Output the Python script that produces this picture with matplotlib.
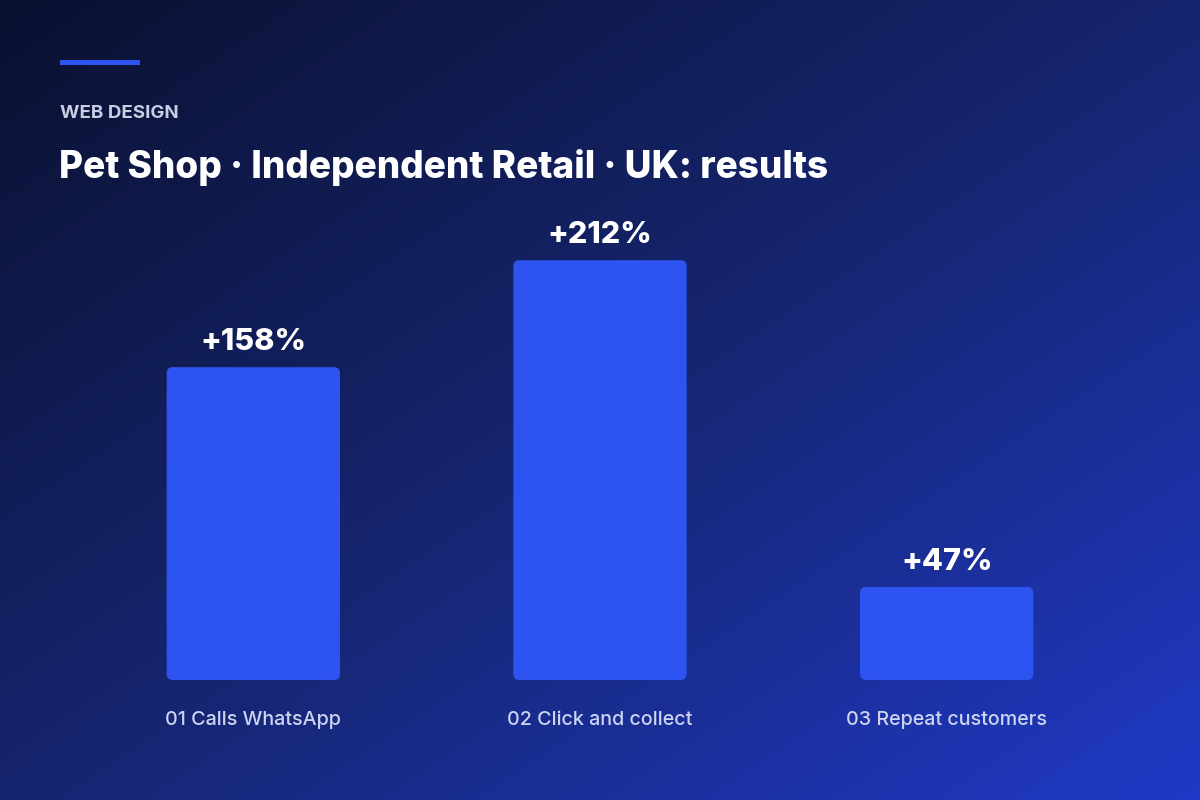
import matplotlib.pyplot as plt
import numpy as np
from matplotlib.patches import FancyBboxPatch
from matplotlib.colors import LinearSegmentedColormap

categories = ['01 Calls WhatsApp', '02 Click and collect', '03 Repeat customers']
values = [158, 212, 47]
value_labels = ['+158%', '+212%', '+47%']

kicker = 'WEB DESIGN'
title = 'Pet Shop · Independent Retail · UK: results'

bar_color = '#2d53f0'
plt.rcParams['font.family'] = ['Inter', 'DejaVu Sans']

fig = plt.figure(figsize=(12, 8), dpi=100)

# background gradient, dark top-left to blue bottom-right
bg = fig.add_axes([0, 0, 1, 1])
bg.set_axis_off()
yy, xx = np.mgrid[0:1:400j, 0:1:600j]
t = (xx + yy) / 2
cmap = LinearSegmentedColormap.from_list('bg', ['#0a1130', '#16256f', '#2039c6'])
bg.imshow(t, cmap=cmap, extent=[0, 1, 0, 1], aspect='auto', origin='upper')
bg.set_xlim(0, 1)
bg.set_ylim(0, 1)

# accent line and headings
bg.add_patch(plt.Rectangle((60 / 1200, 1 - 65 / 800), 80 / 1200, 5 / 800,
                           color=bar_color, lw=0))
bg.text(60 / 1200, 1 - 113 / 800, kicker, color='#c9cee2', fontsize=13.5,
        fontweight='bold', va='center', ha='left')
bg.text(59 / 1200, 1 - 167 / 800, title, color='white', fontsize=26.6,
        fontweight='heavy', va='center', ha='left')

# bar axes: bottom at 680px, 1.98 px per unit
ax = fig.add_axes([80 / 1200, 120 / 800, 1040 / 1200, 480 / 800])
ax.set_axis_off()
ax.set_xlim(-0.5, 2.5)
ax.set_ylim(0, 480 / 1.98)

px_x = 1040 / 3
px_y = 1.98
w = 0.5
r = 6 / px_x
for i, v in enumerate(values):
    ax.add_patch(FancyBboxPatch((i - w / 2, 0), w, v,
                                boxstyle=f'round,pad=0,rounding_size={r}',
                                mutation_aspect=px_x / px_y,
                                fc=bar_color, ec='none'))
    ax.text(i, v + 5.5, value_labels[i], ha='center', va='bottom',
            color='white', fontsize=22, fontweight='heavy')
    ax.text(i, -40 / px_y, categories[i], ha='center', va='center',
            color='#cdd4f2', fontsize=14.2, fontweight='medium')

fig.savefig('out.png', dpi=100)
